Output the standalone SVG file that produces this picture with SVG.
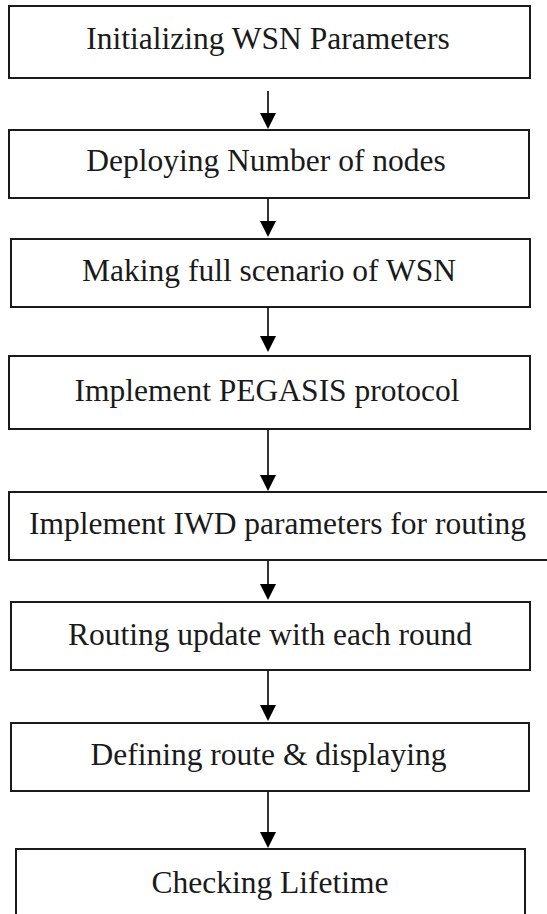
<svg xmlns="http://www.w3.org/2000/svg" width="547" height="914" viewBox="0 0 547 914">
<defs>
<style>
.box{fill:#fff;stroke:#1a1a1a;stroke-width:2}
.lbl{font-size:31.5px;fill:#1a1a1a;text-anchor:middle}
.conn{stroke:#000;stroke-width:1.6;fill:none;marker-end:url(#ah)}
</style>
<marker id="ah" markerUnits="userSpaceOnUse" markerWidth="16" markerHeight="16" refX="0" refY="8" orient="auto" viewBox="0 0 16 16">
<path d="M0,0 L16,8 L0,16 Z" fill="#000"/>
</marker>
</defs>
<rect width="547" height="914" fill="#fff"/>
<g id="connectors">
<line class="conn" x1="268" y1="91" x2="268" y2="113"/>
<line class="conn" x1="268" y1="198" x2="268" y2="221"/>
<line class="conn" x1="268" y1="307" x2="268" y2="336"/>
<line class="conn" x1="268" y1="429" x2="268" y2="475"/>
<line class="conn" x1="268" y1="560" x2="268" y2="584"/>
<line class="conn" x1="268" y1="670" x2="268" y2="705"/>
<line class="conn" x1="268" y1="791" x2="268" y2="832"/>
</g>
<g font-family="Liberation Serif, Times New Roman, serif">
<g id="n1"><rect class="box" x="9" y="6" width="521" height="72"/><text class="lbl" x="268" y="49">Initializing WSN Parameters</text></g>
<g id="n2"><rect class="box" x="9" y="130" width="520" height="68"/><text class="lbl" x="266" y="171">Deploying Number of nodes</text></g>
<g id="n3"><rect class="box" x="11" y="239" width="519" height="68"/><text class="lbl" x="269" y="281">Making full scenario of WSN</text></g>
<g id="n4"><rect class="box" x="9" y="356" width="521" height="73"/><text class="lbl" x="267" y="401">Implement PEGASIS protocol</text></g>
<g id="n5"><rect class="box" x="9" y="492" width="545" height="68"/><text class="lbl" x="277.5" y="534">Implement IWD parameters for routing</text></g>
<g id="n6"><rect class="box" x="11" y="602" width="519" height="68"/><text class="lbl" x="270" y="645">Routing update with each round</text></g>
<g id="n7"><rect class="box" x="11" y="723" width="518" height="68"/><text class="lbl" x="268.5" y="765">Defining route &amp; displaying</text></g>
<g id="n8"><rect class="box" x="16" y="849" width="509" height="80"/><text class="lbl" x="270" y="893">Checking Lifetime</text></g>
</g>
</svg>
